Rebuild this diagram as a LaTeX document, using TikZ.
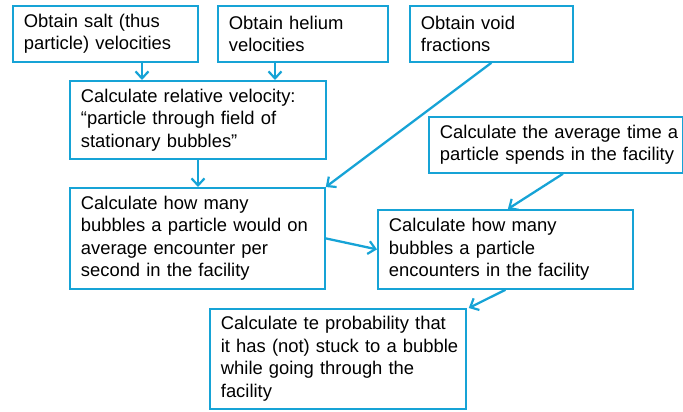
\documentclass[tikz,border=0pt]{standalone}
\usepackage{fontspec}
\setmainfont{Liberation Sans}
\usetikzlibrary{arrows.meta}
\definecolor{flowblue}{RGB}{22,163,214}
\tikzset{
  box/.style={draw=flowblue, line width=1.8pt, fill=white, anchor=north west,
    inner xsep=11pt, inner ysep=2pt, align=left, text=black,
    font=\fontsize{18.4}{22.5}\selectfont},
  arr/.style={draw=flowblue, line width=2.3pt,
    -{Straight Barb[length=7pt,width=13pt,line width=2.2pt]}}
}
\newcommand{\ml}[1]{\mbox{#1}}
\begin{document}
\begin{tikzpicture}[x=1pt,y=-1pt]
\useasboundingbox (0,0) rectangle (683,412);
\node[box, text width=163, minimum width=185, minimum height=56] (A) at (12,5)
  {\ml{Obtain salt (thus}\\\ml{particle) velocities}};
\node[box, text width=148, minimum width=170, minimum height=56] (B) at (217,5)
  {\ml{Obtain helium}\\\ml{velocities}};
\node[box, text width=141, minimum width=163, minimum height=56] (C) at (409,5)
  {\ml{Obtain void}\\\ml{fractions}};
\node[box, text width=234, minimum width=256, minimum height=78] (D) at (69,80)
  {\ml{Calculate relative velocity:}\\\ml{``particle through field of}\\\ml{stationary bubbles''}};
\node[box, text width=232, minimum width=254, minimum height=56] (E) at (428,116)
  {\ml{Calculate the average time a}\\\ml{particle spends in the facility}};
\node[box, text width=233, minimum width=255, minimum height=101] (F) at (69,187)
  {\ml{Calculate how many}\\\ml{bubbles a particle would on}\\\ml{average encounter per}\\\ml{second in the facility}};
\node[box, text width=233, minimum width=255, minimum height=79] (G) at (377,209)
  {\ml{Calculate how many}\\\ml{bubbles a particle}\\\ml{encounters in the facility}};
\node[box, text width=234, minimum width=256, minimum height=100] (H) at (209,308)
  {\ml{Calculate te probability that}\\\ml{it has (not) stuck to a bubble}\\\ml{while going through the}\\\ml{facility}};
\coordinate (xa) at (142,0);
\coordinate (xb) at (275,0);
\coordinate (xd) at (198,0);
\draw[arr] (A.south -| xa) -- (D.north -| xa);
\draw[arr] (B.south -| xb) -- (D.north -| xb);
\draw[arr] (D.south -| xd) -- (F.north -| xd);
\draw[arr] (C.south) -- (F.north east);
\draw[arr] ([xshift=7pt]E.south) -- ([xshift=2.5pt]G.north);
\draw[arr] (F.east) -- (G.west);
\draw[arr] (G.south) -- ([xshift=2pt]H.north east);
\end{tikzpicture}
\end{document}
